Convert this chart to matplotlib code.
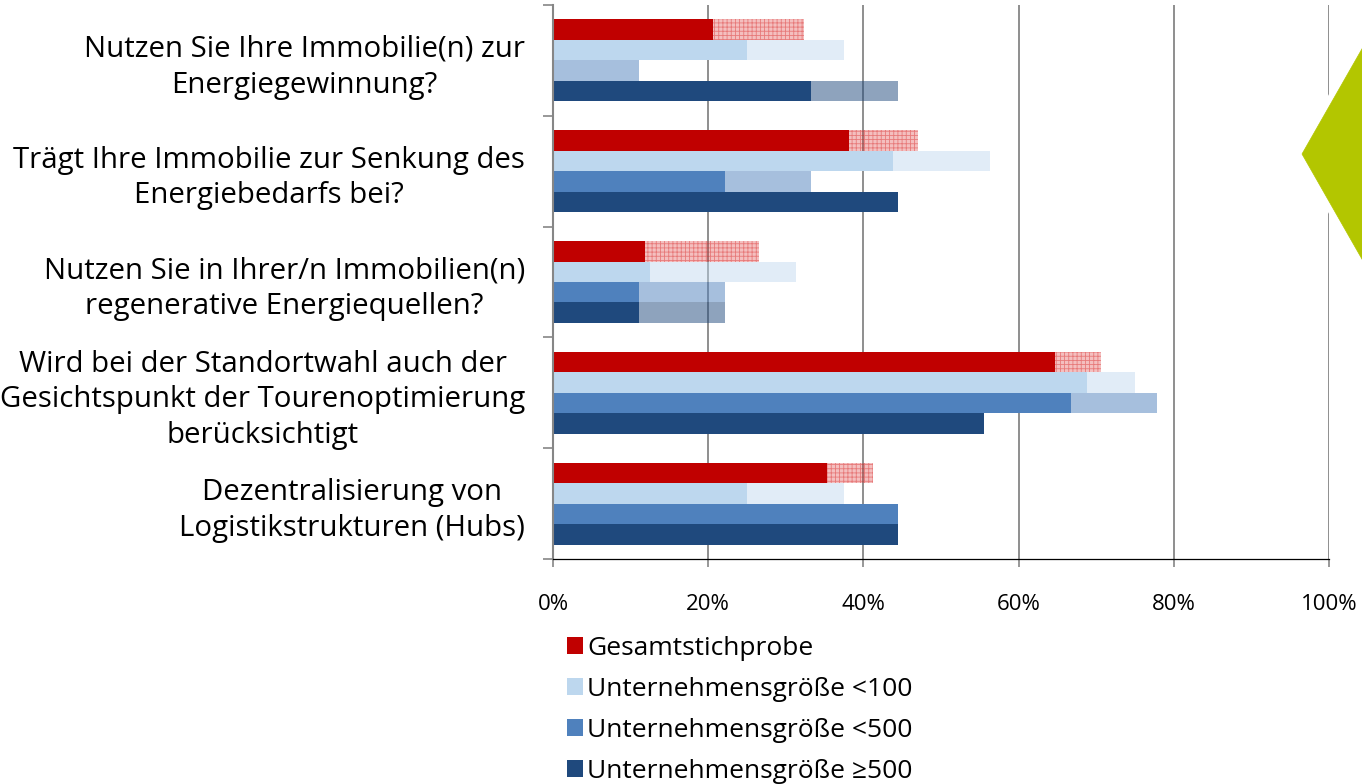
import matplotlib
matplotlib.use("Agg")
import matplotlib.pyplot as plt
from matplotlib.patches import Patch, Polygon
import matplotlib.patheffects as pe

plt.rcParams['font.family'] = ['Open Sans', 'DejaVu Sans']
plt.rcParams['hatch.linewidth'] = 0.6

categories = [
    "Nutzen Sie Ihre Immobilie(n) zur\nEnergiegewinnung?",
    "Trägt Ihre Immobilie zur Senkung des\nEnergiebedarfs bei?",
    "Nutzen Sie in Ihrer/n Immobilien(n)\nregenerative Energiequellen?",
    "Wird bei der Standortwahl auch der\nGesichtspunkt der Tourenoptimierung\nberücksichtigt",
    "Dezentralisierung von\nLogistikstrukturen (Hubs)",
]
series_names = ["Gesamtstichprobe", "Unternehmensgröße <100",
                "Unternehmensgröße <500", "Unternehmensgröße ≥500"]

# solid part (ja) and lighter extension part (teilweise), in %
gesamt_solid = [20.6, 38.2, 11.8, 64.7, 35.3]
gesamt_ext = [11.8, 8.8, 14.7, 5.9, 5.9]
lt100_solid = [25.0, 43.8, 12.5, 68.8, 25.0]
lt100_ext = [12.5, 12.5, 18.8, 6.2, 12.5]
lt500_solid = [0.0, 22.2, 11.1, 66.7, 44.4]
lt500_ext = [11.1, 11.1, 11.1, 11.1, 0.0]
ge500_solid = [33.3, 44.4, 11.1, 55.6, 44.4]
ge500_ext = [11.1, 0.0, 11.1, 0.0, 0.0]

x_ticks = [0, 20, 40, 60, 80, 100]
x_ticklabels = ["0%", "20%", "40%", "60%", "80%", "100%"]

colors = ["#C00000", "#BDD7EE", "#4F81BD", "#1F497D"]
solids = [gesamt_solid, lt100_solid, lt500_solid, ge500_solid]
exts = [gesamt_ext, lt100_ext, lt500_ext, ge500_ext]

W, H = 1362, 784
fig = plt.figure(figsize=(W / 100, H / 100), dpi=100)
ax = fig.add_axes([553 / W, 1 - 559 / H, (1329 - 553) / W, (559 - 5) / H])

bh = 0.185
n = len(categories)
for k in range(4):
    centers = [i + 0.5 + (k - 1.5) * bh for i in range(n)]
    ax.barh(centers, solids[k], height=bh, color=colors[k], linewidth=0, zorder=2)
    if k == 0:
        ax.barh(centers, exts[k], left=solids[k], height=bh,
                facecolor=(0.85, 0.1, 0.1, 0.28), edgecolor=(0.85, 0.15, 0.15, 0.45),
                hatch="++++", linewidth=0, zorder=2)
    elif k == 1:
        ax.barh(centers, exts[k], left=solids[k], height=bh,
                color=colors[k], alpha=0.45, linewidth=0, zorder=2)
    else:
        ax.barh(centers, exts[k], left=solids[k], height=bh,
                color=colors[k], alpha=0.5, linewidth=0, zorder=2)

ax.set_xlim(0, 100)
ax.set_ylim(n, 0)
ax.set_xticks(x_ticks)
ax.set_xticklabels(x_ticklabels, fontsize=16)
ax.xaxis.grid(True, color="#868686", linewidth=1.3)
ax.set_axisbelow(True)
ax.tick_params(axis="x", length=6, width=1.2, color="#868686", pad=19)

ax.set_yticks(range(n + 1))
ax.set_yticklabels([])
ax.set_yticks([i + 0.5 for i in range(n)], minor=True)
ax.set_yticklabels(categories, minor=True, fontsize=21.2, ha="right",
                   multialignment="center", linespacing=1.3)
ax.tick_params(axis="y", which="major", length=7, width=1.2, color="#868686")
ax.tick_params(axis="y", which="minor", length=0, pad=20)

for s in ["top", "right"]:
    ax.spines[s].set_visible(False)
ax.spines["left"].set_color("#868686")
ax.spines["left"].set_linewidth(1.5)
ax.spines["bottom"].set_color("black")
ax.spines["bottom"].set_linewidth(0.9)
ax.spines["bottom"].set_zorder(3)

handles = [Patch(facecolor=c, edgecolor="none") for c in colors]
fig.legend(handles, series_names, loc="upper left",
           bbox_to_anchor=(567 / W, 1 - 636 / H), frameon=False, fontsize=19,
           handlelength=0.6, handleheight=0.6, handletextpad=0.17,
           labelspacing=0.6, borderaxespad=0, borderpad=0)

tri = Polygon([(1.01, 1 - 25 / H), (1302 / W, 1 - 154 / H), (1.01, 1 - 283 / H)],
              closed=True, transform=fig.transFigure, facecolor="#B3C600",
              edgecolor="#B3C600", linewidth=0.5, zorder=5)
tri.set_path_effects([pe.Stroke(linewidth=9, foreground="white"), pe.Normal()])
fig.patches.append(tri)

fig.savefig("out.png", dpi=100)
